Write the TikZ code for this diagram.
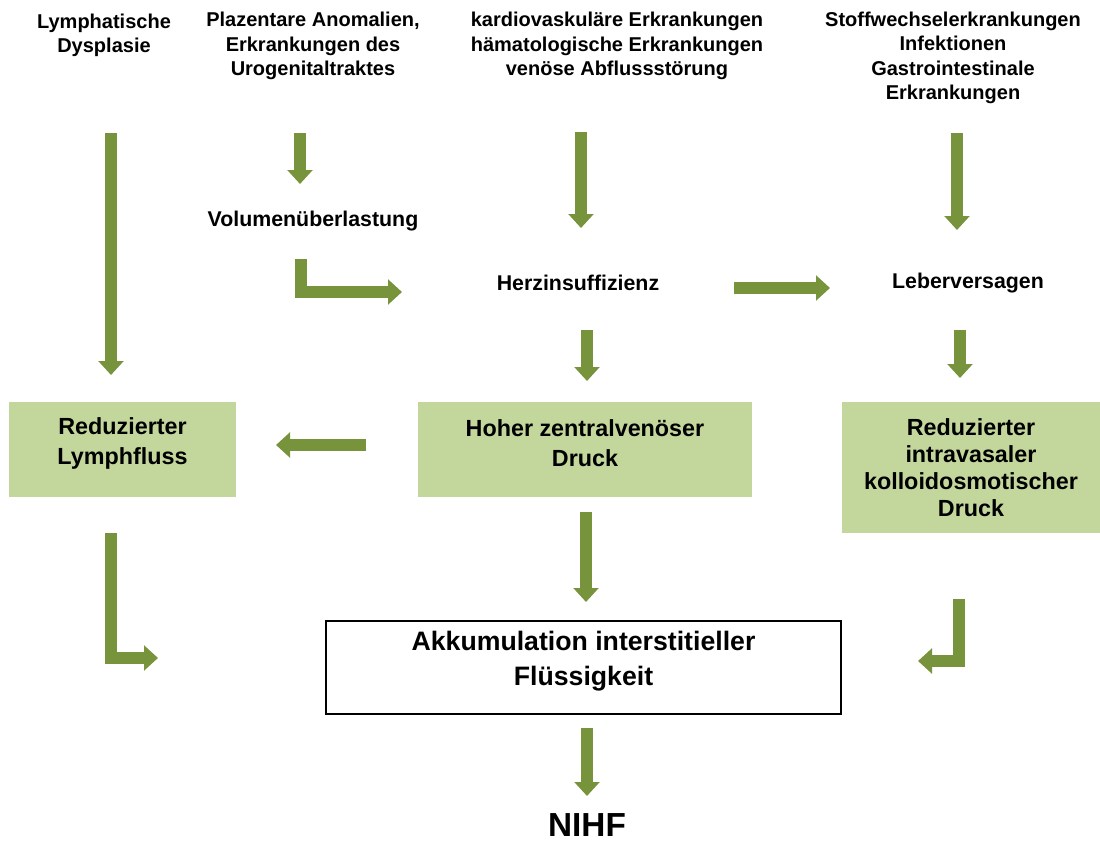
\documentclass[tikz,border=0pt]{standalone}
\usepackage{fontspec}
\setmainfont{Liberation Sans}
\usetikzlibrary{arrows.meta}
\definecolor{arrowgreen}{HTML}{77933C}
\definecolor{boxgreen}{HTML}{C3D69B}
\begin{document}
\begin{tikzpicture}[x=0.75pt,y=-0.75pt,
  fat/.style={draw=arrowgreen, line width=9pt, line join=miter, line cap=butt,
    -{Triangle[width=18.5pt,length=10.5pt]}},
  toptext/.style={align=center, font=\bfseries\fontsize{15}{18.2}\selectfont, inner sep=0pt},
  midtext/.style={align=center, font=\bfseries\fontsize{16}{19}\selectfont, inner sep=0pt},
  gbox/.style={fill=boxgreen, draw=none, inner sep=0pt},
  boxtext/.style={align=center, font=\bfseries\fontsize{17.5}{22.5}\selectfont, inner sep=0pt},
  ]
\useasboundingbox (0,0) rectangle (1100,842);

% top texts
\node[toptext] (lymdys) at (104,35) {Lymphatische\\Dysplasie};
\node[toptext] (plaz) at (313,46) {Plazentare Anomalien,\\Erkrankungen des\\Urogenitaltraktes};
\node[toptext] (kardio) at (617,46) {kardiovaskuläre Erkrankungen\\hämatologische Erkrankungen\\venöse Abflussstörung};
\node[toptext] (stoff) at (953,58) {Stoffwechselerkrankungen\\Infektionen\\Gastrointestinale\\Erkrankungen};

% middle labels
\node[midtext] (volu) at (313,221) {Volumenüberlastung};
\node[midtext] (herz) at (578,283) {Herzinsuffizienz};
\node[midtext] (leber) at (968,283) {Leberversagen};

% boxes
\node[gbox, minimum width=170.25pt, minimum height=71.25pt] (lymbox) at (122.5,449.5) {};
\node[boxtext] (lymtxt) at (122.5,443) {Reduzierter\\Lymphfluss};
\node[gbox, minimum width=250.5pt, minimum height=71.25pt] (hohbox) at (585,449.5) {};
\node[boxtext] (hohtxt) at (585,443) {Hoher zentralvenöser\\Druck};
\node[gbox, minimum width=193.5pt, minimum height=98.25pt] (redbox) at (971,467.5) {};
\node[boxtext, font=\bfseries\fontsize{17.5}{20.3}\selectfont] (redtxt) at (971,467.5) {Reduzierter\\intravasaler\\kolloidosmotischer\\Druck};

\node[draw=black, fill=white, line width=1pt, minimum width=386.25pt, minimum height=69.75pt] (akkbox) at (583.5,667.5) {};
\node[align=center, inner sep=0pt, font=\bfseries\fontsize{20}{26}\selectfont] (akktxt) at (583.5,661) {Akkumulation interstitieller\\Flüssigkeit};

\node[inner sep=0pt, font=\bfseries\fontsize{25}{30}\selectfont] (nihf) at (587,825) {NIHF};

% arrow end points
\coordinate (a1s) at (111,133);
\coordinate (a1e) at (111,375);
\coordinate (a2s) at (300,133);
\coordinate (a2e) at (300,184);
\coordinate (a3s) at (301,259);
\coordinate (a3e) at (402,292);
\coordinate (a4s) at (581,132);
\coordinate (a4e) at (581,228);
\coordinate (a5s) at (957,133);
\coordinate (a5e) at (957,230);
\coordinate (a6s) at (734,288);
\coordinate (a6e) at (830,288);
\coordinate (a7s) at (587,330);
\coordinate (a7e) at (587,381);
\coordinate (a8s) at (960,330);
\coordinate (a8e) at (960,378);
\coordinate (a9s) at (366,445);
\coordinate (a9e) at (276,445);
\coordinate (a10s) at (111,533);
\coordinate (a10e) at (158,658);
\coordinate (a11s) at (586,512);
\coordinate (a11e) at (586,602);
\coordinate (a12s) at (959,599);
\coordinate (a12e) at (918,661);
\coordinate (a13s) at (587,728);
\coordinate (a13e) at (587,796);

\draw[fat] (a1s) -- (a1e);
\draw[fat] (a2s) -- (a2e);
\draw[fat] (a3s) |- (a3e);
\draw[fat] (a4s) -- (a4e);
\draw[fat] (a5s) -- (a5e);
\draw[fat] (a6s) -- (a6e);
\draw[fat] (a7s) -- (a7e);
\draw[fat] (a8s) -- (a8e);
\draw[fat] (a9s) -- (a9e);
\draw[fat] (a10s) |- (a10e);
\draw[fat] (a11s) -- (a11e);
\draw[fat] (a12s) |- (a12e);
\draw[fat] (a13s) -- (a13e);
\end{tikzpicture}
\end{document}
